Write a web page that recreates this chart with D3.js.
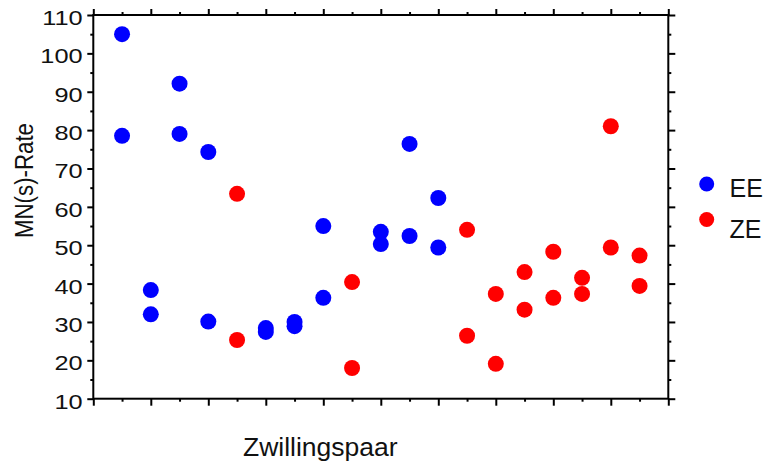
<!DOCTYPE html>
<html>
<head>
<meta charset="utf-8">
<script src="https://cdn.jsdelivr.net/npm/d3@7"></script>
<style>
  html, body { margin: 0; padding: 0; background: #fff; }
  svg { display: block; font-family: "Liberation Sans", Arial, sans-serif; }
</style>
</head>
<body>
<svg id="chart" width="765" height="462"></svg>
<script>
// Twin pairs along the x axis, with the zygosity group of each pair
const pairs  = [1, 2, 3, 4, 5, 6, 7, 8, 9, 10, 11, 12, 13, 14, 15, 16, 17, 18, 19];
const groups = ["EE", "EE", "EE", "EE", "ZE", "EE", "EE", "EE", "ZE", "EE",
                "EE", "EE", "ZE", "ZE", "ZE", "ZE", "ZE", "ZE", "ZE"];
// MN(s)-Rate of the first and the second twin of every pair
const twinA = [105.0, 38.3, 92.1, 74.3, 63.4, 28.4, 30.0, 55.0, 40.4, 53.5,
               76.4, 62.3, 54.0, 37.3, 43.0, 48.3, 41.5, 81.0, 47.3];
const twinB = [78.5, 32.0, 79.0, 30.1, 25.3, 27.4, 28.9, 36.3, 18.0, 50.3,
               52.4, 49.4, 26.4, 19.1, 33.2, 36.3, 37.3, 49.4, 39.4];
// Axis ticks
const yTicks = [10, 20, 30, 40, 50, 60, 70, 80, 90, 100, 110];
const yMinorTicks = [15, 25, 35, 45, 55, 65, 75, 85, 95, 105];
const xTicks = [0, 2, 4, 6, 8, 10, 12, 14, 16, 18, 20];
const xMinorTicks = [1, 3, 5, 7, 9, 11, 13, 15, 17, 19];
const legendGroups = ["EE", "ZE"];
const colors = { EE: "#0000ff", ZE: "#ff0000" };

const plotLeft = 93.3, plotRight = 668.3, plotTop = 15, plotBottom = 398.7;
const svg = d3.select("#chart");

const x = d3.scaleLinear().domain([0, 20]).range([plotLeft, plotRight]);
const y = d3.scaleLinear().domain([10, 110]).range([plotBottom, plotTop]);

function styleAxis(g, width) {
  g.select(".domain").remove();
  g.selectAll(".tick line").attr("stroke", "#000").attr("stroke-width", width);
}

// Left axis with labels
const yAxisG = svg.append("g").attr("transform", `translate(${plotLeft},0)`)
  .call(d3.axisLeft(y).tickValues(yTicks).tickSize(6).tickSizeOuter(0).tickFormat(d3.format("d")));
styleAxis(yAxisG, 2);
yAxisG.selectAll(".tick text")
  .attr("x", -8.2).attr("dy", null).attr("y", 9.5)
  .attr("fill", "#111").attr("font-size", 19.5)
  .attr("font-family", "Liberation Sans, Arial, sans-serif")
  .attr("transform", "scale(1.3,1)");
svg.append("g").attr("transform", `translate(${plotLeft},0)`)
  .call(d3.axisLeft(y).tickValues(yMinorTicks).tickSize(3).tickFormat(""))
  .call(g => styleAxis(g, 2));

// Right axis, ticks only
svg.append("g").attr("transform", `translate(${plotRight},0)`)
  .call(d3.axisRight(y).tickValues(yTicks).tickSize(7).tickFormat(""))
  .call(g => styleAxis(g, 2));
svg.append("g").attr("transform", `translate(${plotRight},0)`)
  .call(d3.axisRight(y).tickValues(yMinorTicks).tickSize(3).tickFormat(""))
  .call(g => styleAxis(g, 2));

// Top and bottom axes, ticks only
svg.append("g").attr("transform", `translate(0,${plotTop})`)
  .call(d3.axisTop(x).tickValues(xTicks).tickSize(6).tickFormat(""))
  .call(g => styleAxis(g, 2));
svg.append("g").attr("transform", `translate(0,${plotTop})`)
  .call(d3.axisTop(x).tickValues(xMinorTicks).tickSize(3).tickFormat(""))
  .call(g => styleAxis(g, 2));
svg.append("g").attr("transform", `translate(0,${plotBottom})`)
  .call(d3.axisBottom(x).tickValues(xTicks).tickSize(7).tickFormat(""))
  .call(g => styleAxis(g, 2));
svg.append("g").attr("transform", `translate(0,${plotBottom})`)
  .call(d3.axisBottom(x).tickValues(xMinorTicks).tickSize(3).tickFormat(""))
  .call(g => styleAxis(g, 2));

// Plot frame
svg.append("rect")
  .attr("x", plotLeft).attr("y", plotTop)
  .attr("width", plotRight - plotLeft).attr("height", plotBottom - plotTop)
  .attr("fill", "none").attr("stroke", "#000").attr("stroke-width", 2);

// Points: both twins of every pair
const points = [];
pairs.forEach((p, i) => {
  points.push({ pair: p, group: groups[i], value: twinA[i] });
  points.push({ pair: p, group: groups[i], value: twinB[i] });
});
svg.append("g").selectAll("circle").data(points).join("circle")
  .attr("cx", d => x(d.pair))
  .attr("cy", d => y(d.value))
  .attr("r", 8)
  .attr("fill", d => colors[d.group]);

// Axis titles
svg.append("text")
  .attr("x", 243).attr("y", 456)
  .attr("font-size", 26.5).attr("fill", "#111")
  .text("Zwillingspaar");
svg.append("text")
  .attr("transform", "translate(33,180.5) rotate(-90)")
  .attr("text-anchor", "middle")
  .attr("font-size", 25).attr("fill", "#111")
  .attr("textLength", 115).attr("lengthAdjust", "spacingAndGlyphs")
  .text("MN(s)-Rate");

// Legend
const legend = svg.append("g");
const legendCircleY = [184, 219.5];
const legendTextY = [196.5, 237.8];
legend.selectAll("circle").data(legendGroups).join("circle")
  .attr("cx", 706.7).attr("cy", (d, i) => legendCircleY[i])
  .attr("r", 7.5).attr("fill", d => colors[d]);
legend.selectAll("text").data(legendGroups).join("text")
  .attr("x", 729.5).attr("y", (d, i) => legendTextY[i])
  .attr("font-size", 25).attr("fill", "#111")
  .text(d => d);
</script>
</body>
</html>
